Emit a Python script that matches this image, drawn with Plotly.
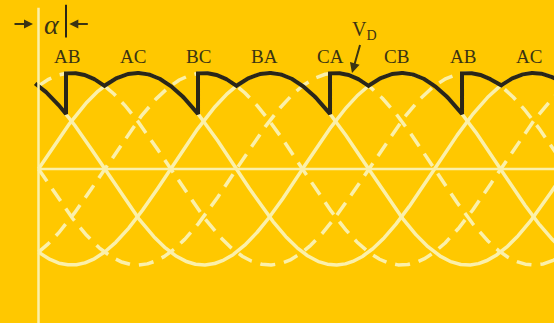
import numpy as np
import plotly.graph_objects as go

# Line-to-line voltages of a three-phase supply (degrees of the peak, dash style)
phase_names = ["AB", "AC", "BC", "BA", "CA", "CB"]
phase_peaks = [30, 90, 150, 210, 270, 330]
phase_dash = ["dash", "solid", "dash", "solid", "dash", "solid"]

# Labels over the rectified output, at successive peaks
label_names = ["AB", "AC", "BC", "BA", "CA", "CB", "AB", "AC"]
label_peaks = [30, 90, 150, 210, 270, 330, 390, 450]

alpha = 25          # firing delay, degrees
v_peak = 1.0        # line voltage amplitude (per unit)
theta_start, theta_end = 0, 470
vd_start = -3

BG = "#FFC800"
CREAM = "#FBF0AA"
DARK = "#2A2618"
TEXT = "#3B3413"


def line_voltage(theta, peak):
    return v_peak * np.cos(np.radians(theta - peak))


fig = go.Figure()

theta = np.linspace(theta_start, theta_end, 1500)
for name, peak, dash in zip(phase_names, phase_peaks, phase_dash):
    fig.add_trace(go.Scatter(
        x=theta, y=line_voltage(theta, peak), mode="lines", name=name,
        line=dict(color=CREAM, width=3.5,
                  dash="15px,9px" if dash == "dash" else "solid"),
        hoverinfo="skip", showlegend=False))

# Output voltage V_D: thyristor pairs commutate at alpha, diodes at 60 deg points
segments = [(vd_start, alpha, -30)]
n = 0
while alpha + 120 * n < theta_end:
    a = alpha + 120 * n
    b = 60 + 120 * n
    c = alpha + 120 * (n + 1)
    segments.append((a, min(b, theta_end), 30 + 120 * n))
    if b < theta_end:
        segments.append((b, min(c, theta_end), 90 + 120 * n))
    n += 1

vd_x, vd_y = [], []
for a, b, peak in segments:
    t = np.linspace(a, b, 80)
    vd_x.extend(t.tolist())
    vd_y.extend(line_voltage(t, peak).tolist())

fig.add_trace(go.Scatter(
    x=vd_x, y=vd_y, mode="lines", name="V_D",
    line=dict(color=DARK, width=4), hoverinfo="skip", showlegend=False))

# Axes drawn as plain lines
fig.add_shape(type="line", x0=0, x1=0, y0=-2, y1=1.68,
              line=dict(color=CREAM, width=2.5))
fig.add_shape(type="line", x0=0, x1=theta_end, y0=0, y1=0,
              line=dict(color=CREAM, width=2.5))

for name, peak in zip(label_names, label_peaks):
    fig.add_annotation(x=peak, y=1.17, text=name, showarrow=False,
                       xshift=-5, yanchor="middle",
                       font=dict(family="Liberation Serif", size=19, color=TEXT))

# V_D label with its pointer to the output curve
fig.add_annotation(x=285, y=1.0, ax=12, ay=-42, text="V<sub>D</sub>",
                   showarrow=True, arrowhead=2, arrowsize=1.0, arrowwidth=2,
                   arrowcolor=TEXT, standoff=0,
                   font=dict(family="Liberation Serif", size=20, color=TEXT))

# Firing-angle marker
fig.add_shape(type="line", x0=alpha, x1=alpha, y0=1.37, y1=1.71,
              line=dict(color=DARK, width=2))
fig.add_annotation(x=alpha / 2, y=1.5, text="<i>α</i>", showarrow=False,
                   font=dict(family="Liberation Serif", size=28, color=TEXT))
fig.add_annotation(x=-5, y=1.51, ax=-20, ay=0, text="", showarrow=True,
                   arrowhead=2, arrowsize=0.9, arrowwidth=2, arrowcolor=TEXT)
fig.add_annotation(x=alpha + 3, y=1.51, ax=20, ay=0, text="", showarrow=True,
                   arrowhead=2, arrowsize=0.9, arrowwidth=2, arrowcolor=TEXT)

fig.update_layout(
    width=554, height=323, autosize=False,
    margin=dict(l=0, r=0, t=0, b=0),
    paper_bgcolor=BG, plot_bgcolor=BG,
    xaxis=dict(range=[-35, 468.6], visible=False, fixedrange=True),
    yaxis=dict(range=[-1.604, 1.760], visible=False, fixedrange=True),
)

fig.write_html("out.html")
